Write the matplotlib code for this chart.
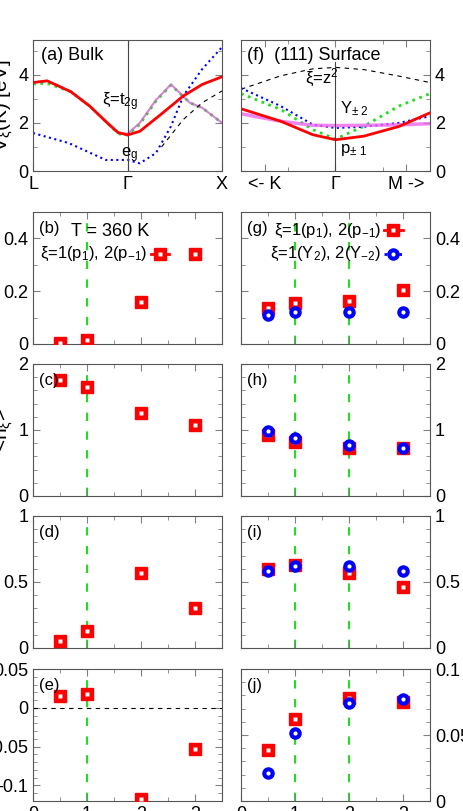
import numpy as np
import matplotlib.pyplot as plt

plt.rcParams["font.family"] = ["Liberation Sans", "DejaVu Sans"]
plt.rcParams["mathtext.fontset"] = "custom"
plt.rcParams["mathtext.rm"] = "Liberation Sans"
plt.rcParams["mathtext.it"] = "Liberation Sans"

# ---- band data (a) bulk: path L(0) - Gamma(1) - X(2)
bulk_t2g_x = [0, 0.15, 0.4, 0.6, 0.8, 0.9, 1.0, 1.13, 1.33, 1.46, 1.59, 1.79, 2.0]
bulk_red = [3.68, 3.75, 3.3, 2.7, 1.95, 1.6, 1.5, 1.65, 2.28, 2.7, 3.12, 3.6, 3.92]
bulk_mag_x = [0, 0.15, 0.4, 0.6, 0.8, 0.9, 1.0, 1.13, 1.3, 1.46, 1.66, 1.79, 2.0]
bulk_mag = [3.68, 3.75, 3.3, 2.7, 1.95, 1.6, 1.55, 2.0, 2.95, 3.6, 2.84, 2.63, 2.0]
bulk_grn = [3.62, 3.65, 3.3, 2.7, 1.95, 1.55, 1.5, 1.95, 2.9, 3.58, 2.84, 2.63, 2.0]
bulk_eg_x = [0, 0.38, 0.77, 1.0, 1.13, 1.3, 1.46, 1.59, 1.79, 2.0]
bulk_eg = [1.58, 1.16, 0.46, 0.46, 0.32, 0.74, 1.86, 3.12, 4.24, 5.15]
bulk_dash_x = [1.36, 1.59, 1.79, 2.0]
bulk_dash = [1.0, 2.14, 2.84, 3.33]

# ---- band data (f) surface: K(-1) - Gamma(0) - M(1)
surf_x = [-1, -0.58, -0.24, 0, 0.3, 0.67, 1]
surf_dash = [3.4, 3.96, 4.25, 4.31, 4.22, 3.95, 3.68]
surf_grn = [3.22, 2.56, 1.72, 1.33, 1.86, 2.7, 3.22]
surf_blu = [3.45, 2.7, 1.93, 1.79, 1.84, 2.0, 2.28]
surf_red = [2.59, 2.07, 1.51, 1.3, 1.45, 1.85, 2.42]
surf_mag = [2.38, 2.07, 1.9, 1.89, 1.9, 1.92, 1.97]

# ---- lower panels
xs = [0.5, 1, 2, 3]
b_red = [0.005, 0.017, 0.158, 0.34]
g_red = [0.135, 0.155, 0.163, 0.205]
g_blu = [0.108, 0.12, 0.123, 0.12]
c_red = [1.76, 1.65, 1.26, 1.07]
h_red = [0.92, 0.82, 0.73, 0.72]
h_blu = [0.98, 0.88, 0.77, 0.72]
d_red = [0.05, 0.13, 0.57, 0.30]
i_red = [0.60, 0.63, 0.57, 0.46]
i_blu = [0.58, 0.62, 0.62, 0.58]
e_red = [0.015, 0.018, -0.117, -0.053]
j_red = [0.0386, 0.062, 0.078, 0.075]
j_blu = [0.021, 0.0515, 0.074, 0.077]

W, H = 463, 811
fig = plt.figure(figsize=(W / 100, H / 100), dpi=100)


def ax_px(x0, y0, x1, y1):
    return fig.add_axes([x0 / W, 1 - y1 / H, (x1 - x0) / W, (y1 - y0) / H])


def style(ax, right=False):
    ax.tick_params(direction="in", which="both", top=True, right=True,
                   labelsize=13, length=5, color="grey")
    ax.tick_params(which="minor", length=3)
    if right:
        ax.yaxis.tick_right()
        ax.tick_params(axis="y", which="both", left=True)
    for s in ax.spines.values():
        s.set_color("#555555")


def squares(ax, x, y):
    ax.plot(x, y, marker="s", ms=8, color="red", ls="none", zorder=3)
    ax.plot(x, y, marker="s", ms=3, mfc="white", mec="none", ls="none", zorder=3)


def circles(ax, x, y):
    ax.plot(x, y, marker="o", ms=8, color="blue", ls="none", zorder=4)
    ax.plot(x, y, marker="o", ms=3, mfc="white", mec="none", ls="none", zorder=4)


L, R = 33, 222
L2, R2 = 241, 430

# (a)
ax = ax_px(L, 40, R, 171)
ax.plot(bulk_t2g_x, bulk_red, color="red", lw=2, zorder=3)
ax.plot(bulk_mag_x, bulk_grn, color="#22dd22", lw=2, ls=":")
ax.plot(bulk_mag_x, bulk_mag, color="#cc66cc", lw=1.5, alpha=0.8)
ax.plot(bulk_eg_x, bulk_eg, color="blue", lw=1.5, ls=":")
ax.plot(bulk_dash_x, bulk_dash, color="black", lw=0.8, ls=(0, (4, 4)))
ax.axvline(1, color="#444444", lw=0.8)
ax.set_xlim(0, 2)
ax.set_ylim(0, 5.45)
ax.set_yticks([0, 2, 4])
ax.set_yticks([1, 3, 5], minor=True)
ax.set_xticks([0, 1, 2], ["L", "Γ", "X"])
ax.set_ylabel(r"V$_\xi$(K) [eV]", fontsize=15, labelpad=2)
ax.text(0.04, 0.85, "(a) Bulk", transform=ax.transAxes, fontsize=13)
ax.text(0.73, 2.75, r"ξ=t$_{2g}$", fontsize=12)
ax.text(0.93, 0.55, r"e$_g$", fontsize=12)
style(ax)

# (f)
ax = ax_px(L2, 40, R2, 171)
ax.plot(surf_x, surf_dash, color="black", lw=0.8, ls=(0, (4, 4)))
ax.plot(surf_x, surf_grn, color="#22dd22", lw=2, ls=":")
ax.plot(surf_x, surf_blu, color="blue", lw=1.5, ls=":")
ax.plot(surf_x, surf_mag, color="#ee66ee", lw=2.5, alpha=0.8)
ax.plot(surf_x, surf_red, color="red", lw=2)
ax.plot([0, 0], [0, 4.55], color="#444444", lw=0.8)
ax.set_xlim(-1, 1)
ax.set_ylim(0, 5.45)
ax.set_yticks([0, 2, 4])
ax.set_yticks([1, 3, 5], minor=True)
ax.set_xticks([-0.75, 0, 0.75], ["<- K", "Γ", "M ->"])
ax.set_xticks([-0.5, 0.5], minor=True)
ax.text(0.03, 0.85, "(f)  (111) Surface", transform=ax.transAxes, fontsize=13)
ax.text(-0.32, 3.65, r"ξ=z$^2$", fontsize=12)
ax.text(0.05, 2.4, r"Y$_{\pm\ 2}$", fontsize=12)
ax.text(0.05, 0.75, r"p$_{\pm\ 1}$", fontsize=12)
style(ax, right=True)

rows = [(212, 344), (364, 496), (516, 648), (669, 801)]
left_data = [b_red, c_red, d_red, e_red]
right_data = [(g_red, g_blu), (h_red, h_blu), (i_red, i_blu), (j_red, j_blu)]
left_lims = [(0, 0.5), (0, 2), (0, 1), (-0.12, 0.05)]
right_lims = [(0, 0.5), (0, 2), (0, 1), (0, 0.1)]
left_ticks = [[0, 0.2, 0.4], [0, 1, 2], [0, 0.5, 1], [-0.1, -0.05, 0, 0.05]]
right_ticks = [[0, 0.2, 0.4], [0, 1, 2], [0, 0.5, 1], [0, 0.05, 0.1]]
left_minor = [0.1, 0.2, 0.1, 0.01]
right_minor = [0.1, 0.2, 0.1, 0.01]
left_tags = ["(b)", "(c)", "(d)", "(e)"]
right_tags = ["(g)", "(h)", "(i)", "(j)"]
left_ylabels = [r"$\lambda_\xi$", r"<n$_\xi$>", r"<$\sigma$>", r"$\delta$"]

for k, (y0, y1) in enumerate(rows):
    for col in range(2):
        ax = ax_px(L if col == 0 else L2, y0, R if col == 0 else R2, y1)
        lims = left_lims[k] if col == 0 else right_lims[k]
        for xv in (1, 2) if col == 1 else (1,):
            ax.axvline(xv, color="#22dd22", lw=1.5, ls=(0, (4, 5)), zorder=1)
        if col == 0:
            squares(ax, xs, left_data[k])
            if k == 3:
                ax.axhline(0, color="black", lw=0.8, ls=(0, (4, 4)))
            ax.set_ylabel(left_ylabels[k], fontsize=15, labelpad=2)
        else:
            rd, bl = right_data[k]
            squares(ax, xs, rd)
            circles(ax, xs, bl)
        ax.set_xlim(0, 3.5)
        ax.set_ylim(*lims)
        ax.set_xticks([0, 1, 2, 3])
        ax.set_xticks([0.5, 1.5, 2.5], minor=True)
        ax.set_yticks(left_ticks[k] if col == 0 else right_ticks[k])
        mstep = left_minor[k] if col == 0 else right_minor[k]
        ax.set_yticks(np.arange(lims[0], lims[1] + 1e-9, mstep), minor=True)
        ax.yaxis.set_major_formatter(plt.FuncFormatter(lambda v, p: f"{v:g}"))
        if k < 3:
            ax.set_xticklabels([])
        tag = left_tags[k] if col == 0 else right_tags[k]
        ax.text(0.03, 0.84, tag, transform=ax.transAxes, fontsize=12)
        style(ax, right=(col == 1))
        if k == 0 and col == 0:
            ax.text(0.2, 0.82, "T = 360 K", transform=ax.transAxes, fontsize=13)
            ax.text(2.12, 0.34, r"ξ=1(p$_1$), 2(p$_{-1}$)", ha="right",
                    va="center", fontsize=12)
            ax.plot([2.18, 2.52], [0.34, 0.34], color="red", lw=2)
            squares(ax, [2.35], [0.34])
        if k == 0 and col == 1:
            ax.text(2.6, 0.43, r"ξ=1(p$_1$), 2(p$_{-1}$)", ha="right",
                    va="center", fontsize=12)
            ax.text(2.6, 0.34, r"ξ=1(Y$_2$), 2(Y$_{-2}$)", ha="right",
                    va="center", fontsize=12)
            ax.plot([2.65, 3.0], [0.43, 0.43], color="red", lw=2)
            squares(ax, [2.82], [0.43])
            ax.plot([2.65, 3.0], [0.34, 0.34], color="blue", lw=2, ls=":")
            circles(ax, [2.82], [0.34])

fig.savefig("out.png", dpi=100)
